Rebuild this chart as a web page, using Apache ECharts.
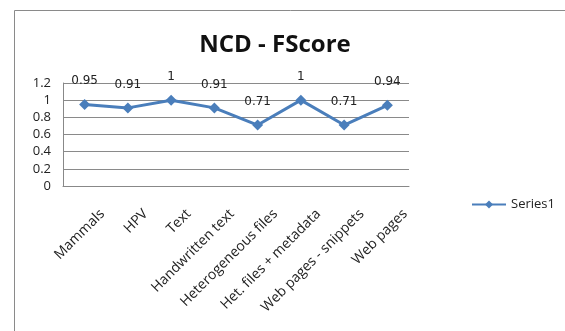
<!DOCTYPE html>
<html>
<head>
<meta charset="utf-8">
<script src="https://cdn.jsdelivr.net/npm/echarts@6/dist/echarts.min.js"></script>
<style>
  html, body { margin: 0; padding: 0; background: #fff; }
  #chart { width: 565px; height: 331px; }
</style>
</head>
<body>
<div id="chart"></div>
<script>
const categories = [
  "Mammals",
  "HPV",
  "Text",
  "Handwritten text",
  "Heterogeneous files",
  "Het. files + metadata",
  "Web pages - snippets",
  "Web pages",
];
const fscore = [0.95, 0.91, 1, 0.91, 0.71, 1, 0.71, 0.94];
const seriesName = "Series1";

const chart = echarts.init(document.getElementById("chart"), undefined, { renderer: "canvas" });

chart.setOption({
  animation: false,
  title: {
    text: "NCD - FScore",
    left: 270,
    textAlign: "center",
    top: 28,
    textStyle: { fontFamily: "Open Sans", fontSize: 24, fontWeight: "bold", color: "#111" },
  },
  graphic: [
    {
      type: "rect",
      shape: { x: 14.5, y: 10.5, width: 560, height: 330 },
      style: { fill: "none", stroke: "#8a8a8a", lineWidth: 1 },
      silent: true,
    },
  ],
  legend: {
    data: [seriesName],
    left: 466,
    top: 193,
    itemWidth: 34,
    itemHeight: 10,
    itemGap: 3,
    textStyle: { fontFamily: "Open Sans", fontSize: 13, color: "#222" },
  },
  grid: { left: 63, right: 156, top: 83, bottom: 145, containLabel: false },
  xAxis: {
    type: "category",
    data: categories,
    boundaryGap: true,
    axisLine: { lineStyle: { color: "#888" } },
    axisTick: { show: false },
    axisLabel: {
      rotate: 45,
      interval: 0,
      margin: 8,
      verticalAlign: "top",
      padding: [18, 0, 0, 0],
      fontFamily: "Open Sans",
      fontSize: 14,
      color: "#222",
    },
  },
  yAxis: {
    type: "value",
    min: 0,
    max: 1.2,
    interval: 0.2,
    axisLine: { show: true, lineStyle: { color: "#888" } },
    axisTick: { show: false },
    axisLabel: { fontFamily: "Open Sans", fontSize: 13, color: "#222", margin: 12 },
    splitLine: { lineStyle: { color: "#8a8a8a", width: 1 } },
  },
  series: [
    {
      name: seriesName,
      type: "line",
      data: fscore,
      symbol: "diamond",
      symbolSize: 11,
      lineStyle: { color: "#4a7ebb", width: 3 },
      itemStyle: { color: "#4a7ebb" },
      label: {
        show: true,
        position: "top",
        distance: 12,
        fontFamily: "DejaVu Sans",
        fontSize: 12,
        color: "#222",
      },
    },
  ],
});
</script>
</body>
</html>
